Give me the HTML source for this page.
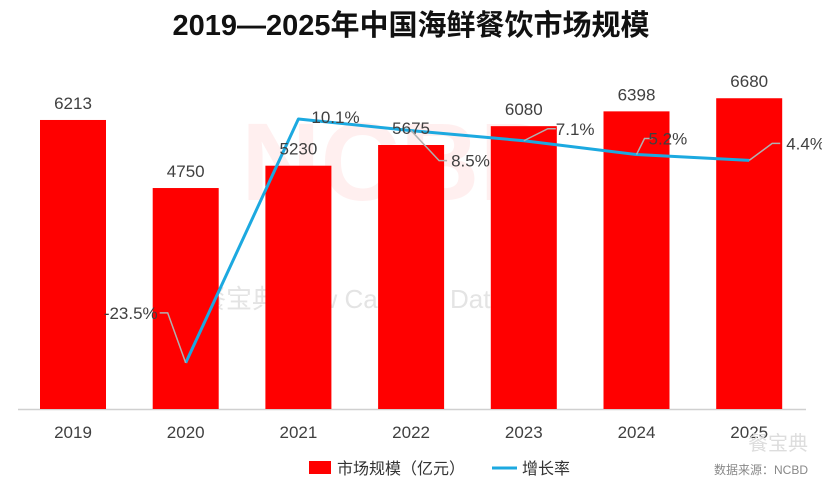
<!DOCTYPE html>
<html><head><meta charset="utf-8"><style>
body{margin:0;background:#fff;width:822px;height:489px;overflow:hidden;font-family:"Liberation Sans","Noto Sans CJK SC",sans-serif}
svg text{font-family:"Liberation Sans","Noto Sans CJK SC",sans-serif}
</style></head><body>
<svg width="822" height="489">
<text x="411" y="35" text-anchor="middle" font-size="29" font-weight="bold" fill="#111">2019—2025年中国海鲜餐饮市场规模</text>
<g opacity="0.06">
<text x="400" y="200" text-anchor="middle" font-size="110" font-weight="bold" fill="#f00">NCBD</text>
</g>
<g>
<text x="200" y="308" font-size="26" fill="#e4e4e4">餐宝典 New Catering Data</text>
</g>
<line x1="18" y1="409.5" x2="806" y2="409.5" stroke="#d0d0d0" stroke-width="1.5"/>
<g id="bars"></g><g id="line"></g><g id="labels"></g>
<g>
<rect x="309" y="461" width="22" height="13" fill="#f00"/>
<text x="337" y="474" font-size="16" fill="#333">市场规模（亿元）</text>
<line x1="492" y1="468" x2="517" y2="468" stroke="#1ca9e0" stroke-width="3"/>
<text x="522" y="474" font-size="16" fill="#333">增长率</text>
</g>
<text x="808" y="450" text-anchor="end" font-size="20" fill="#ddd">餐宝典</text>
<text x="808" y="474" text-anchor="end" font-size="12" fill="#888">数据来源：NCBD</text>
</svg>
<script>
const years=["2019","2020","2021","2022","2023","2024","2025"];
const market=[6213,4750,5230,5675,6080,6398,6680];
const growth=[null,-23.5,10.1,8.5,7.1,5.2,4.4];
const NS="http://www.w3.org/2000/svg";
const xC=i=>73+i*112.7;
const yB=v=>409-v*0.04652;
const yG=v=>192.3-v*7.26;
function mk(t,a,p){const e=document.createElementNS(NS,t);for(const k in a)e.setAttribute(k,a[k]);p.appendChild(e);return e;}
const bars=document.getElementById('bars'),lab=document.getElementById('labels'),ln=document.getElementById('line');
years.forEach((y,i)=>{
 const r=mk('rect',{x:xC(i)-33,y:yB(market[i]),width:66,height:409-yB(market[i]),fill:'#f00'},bars);
 
 
 const t=mk('text',{x:xC(i),y:yB(market[i])-11,'text-anchor':'middle','font-size':17,fill:'#404040'},lab);t.textContent=market[i];
 
 
 const xt=mk('text',{x:xC(i),y:438,'text-anchor':'middle','font-size':17,fill:'#404040'},lab);xt.textContent=y;
 
 
});
let pts=[];growth.forEach((g,i)=>{if(g!==null)pts.push(xC(i)+','+yG(g));});
const pl=mk('polyline',{points:pts.join(' '),fill:'none',stroke:'#1ca9e0','stroke-width':3,'stroke-linejoin':'round'},ln);


const off=[null,[-18,-50,-22,'end'],[13,-2,13,'start'],[28,30,34,'start'],[24,-12,26,'start'],[8,-16,6,'start'],[23,-17,31,'start']];
growth.forEach((g,i)=>{if(g===null)return;
 const px=xC(i),py=yG(g),o=off[i];
 if(i!==2){const l=mk('polyline',{points:`${px},${py} ${px+o[0]},${py+o[1]} ${px+o[0]+(o[3]=='end'?-8:8)},${py+o[1]}`,fill:'none',stroke:'#b0b0b0','stroke-width':1.5},lab);
 
 }
 const t=mk('text',{x:px+o[2]+(i==2?0:(o[3]=='end'?-6:6)),y:py+o[1]+6,'text-anchor':o[3],'font-size':17,fill:'#404040'},lab);
 t.textContent=g.toFixed(1)+'%';
 
 
});
</script>
</body></html>
